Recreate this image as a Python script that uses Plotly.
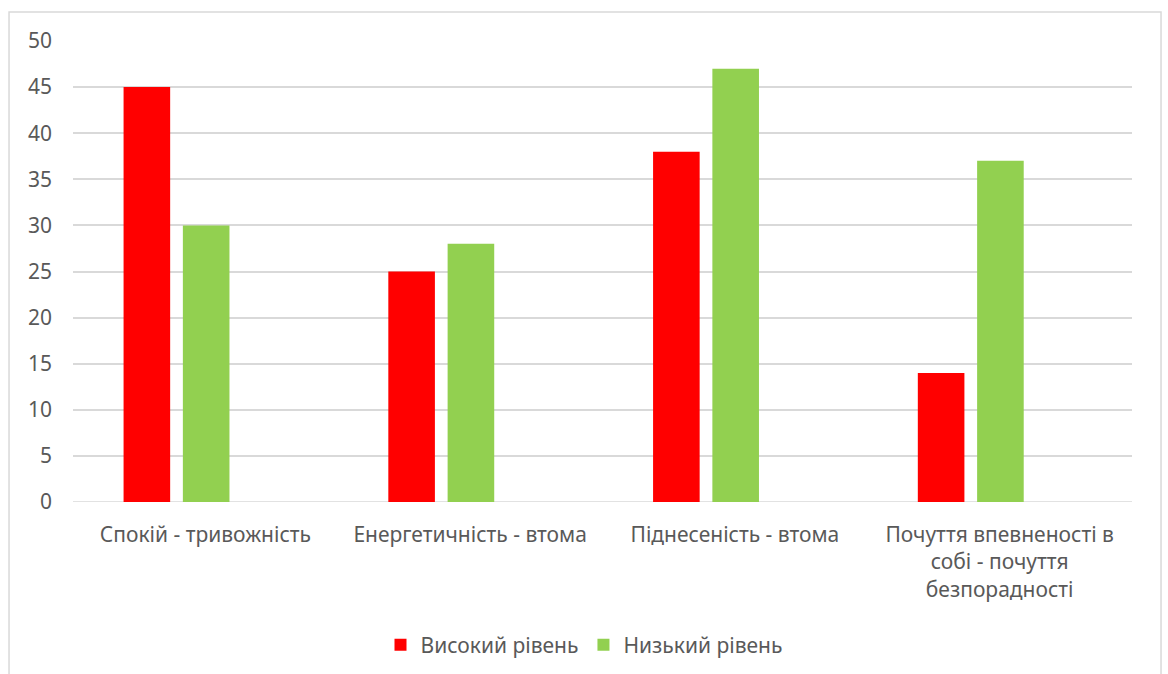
import plotly.graph_objects as go

categories = [
    "Спокій - тривожність",
    "Енергетичність - втома",
    "Піднесеність - втома",
    "Почуття впевненості в собі - почуття безпорадності",
]
tick_labels = [
    "Спокій - тривожність",
    "Енергетичність - втома",
    "Піднесеність - втома",
    "Почуття впевненості в<br>собі - почуття<br>безпорадності",
]
high_level = [45, 25, 38, 14]
low_level = [30, 28, 47, 37]
y_ticks = [0, 5, 10, 15, 20, 25, 30, 35, 40, 45, 50]

TEXT = "#595959"
GRID = "#d9d9d9"
FONT = "Noto Sans"
SIZE = 21

fig = go.Figure()
fig.add_trace(go.Bar(
    x=categories, y=high_level, name="Високий рівень",
    marker=dict(color="#FF0000", line=dict(width=0)),
    width=0.176, offset=-0.309,
))
fig.add_trace(go.Bar(
    x=categories, y=low_level, name="Низький рівень",
    marker=dict(color="#92D050", line=dict(width=0)),
    width=0.176, offset=-0.085,
))

fig.update_layout(
    width=1168, height=674,
    margin=dict(l=73, r=36, t=41, b=172),
    paper_bgcolor="white", plot_bgcolor="white",
    barmode="overlay",
    font=dict(family=FONT, size=SIZE, color=TEXT),
    showlegend=True,
    legend=dict(
        orientation="h", xref="container", yref="container",
        x=0.5, xanchor="center", y=0.043, yanchor="middle",
        font=dict(family=FONT, size=SIZE, color=TEXT),
        itemwidth=30, traceorder="normal",
    ),
    xaxis=dict(
        type="category", range=[-0.5, 3.5], automargin=False,
        tickmode="array", tickvals=categories, ticktext=tick_labels,
        showgrid=False, zeroline=False, showline=False, ticks="",
        ticklabelstandoff=18,
        tickfont=dict(family=FONT, size=SIZE, color=TEXT),
    ),
    yaxis=dict(
        range=[0, 50], tickvals=y_ticks, automargin=False,
        showgrid=True, gridcolor=GRID, gridwidth=1.5,
        zeroline=False, showline=False, ticks="",
        ticklabelstandoff=20,
        tickfont=dict(family=FONT, size=SIZE, color=TEXT),
    ),
    shapes=[
        dict(type="line", xref="paper", yref="y", x0=0, x1=1, y0=0, y1=0,
             line=dict(color=GRID, width=1.5), layer="below"),
        dict(type="rect", xref="paper", yref="paper",
             x0=-0.0604, x1=1.0274, y0=-0.5, y1=1.063,
             line=dict(color=GRID, width=1.5), fillcolor="rgba(0,0,0,0)"),
    ],
)

fig.write_html("out.html")
